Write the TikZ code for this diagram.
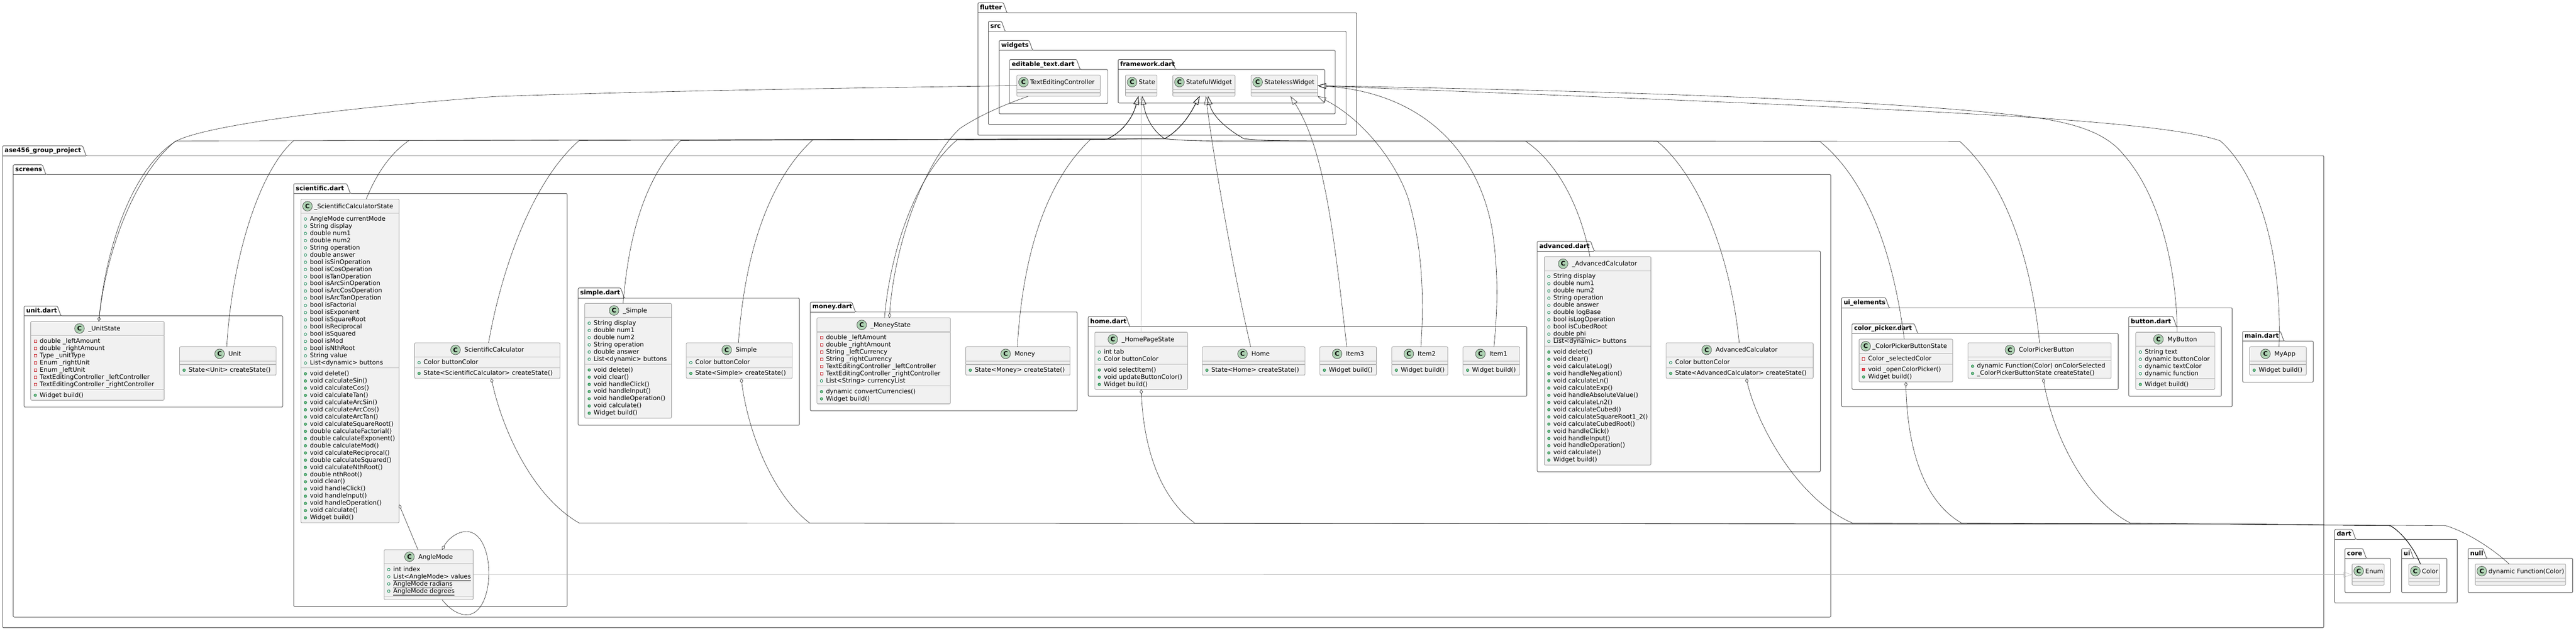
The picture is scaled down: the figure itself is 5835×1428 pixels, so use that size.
\documentclass[tikz,border=0pt]{standalone}
\usepackage{fontspec}
\setmainfont{DejaVu Sans}
\usetikzlibrary{arrows.meta}
\definecolor{classfill}{HTML}{F1F1F1}
\definecolor{circlefill}{HTML}{ADD1B2}
\definecolor{pubgreen}{HTML}{038048}
\definecolor{pubfill}{HTML}{84BE84}
\definecolor{privred}{HTML}{C82930}
\definecolor{privfill}{HTML}{F24D5C}
\tikzset{
  pkgline/.style={draw=black!70,line width=1.1pt,rounded corners=2.5pt},
  pkgtitle/.style={anchor=base west,inner sep=0pt,font=\fontsize{14}{16}\selectfont\bfseries},
  classbox/.style={draw=black!40,fill=classfill,line width=1pt,rounded corners=2.5pt,anchor=north west,inner sep=0pt,outer sep=0pt},
  sepline/.style={draw=black!30,line width=1.3pt},
  rowtext/.style={anchor=base west,inner sep=0pt,font=\fontsize{14}{16}\selectfont},
  circc/.style={circle,draw=black!75,fill=circlefill,line width=.8pt,minimum size=22pt,inner sep=0pt,font=\fontsize{14}{16}\selectfont\bfseries},
  pf/.style={circle,draw=pubgreen,line width=.9pt,minimum size=6pt,inner sep=0pt},
  pm/.style={circle,draw=pubgreen,fill=pubfill,line width=.9pt,minimum size=6pt,inner sep=0pt},
  xf/.style={rectangle,draw=privred,line width=.9pt,minimum size=6pt,inner sep=0pt},
  xm/.style={rectangle,draw=privred,fill=privfill,line width=.9pt,minimum size=6pt,inner sep=0pt},
  link/.style={draw=black!90,line width=.7pt},
  ext/.style={link,{Triangle[open,length=19pt,width=12pt]}-},
  agg/.style={link,{Diamond[open,length=11pt,width=7pt]}-},
  graylink/.style={draw=black!30,line width=1.1pt},
}
\newlength{\titlew}
\newcommand{\umlpack}[8]{
  \draw[pkgline] (#2,#4) -- (#2,#3) -- (#7-8,#3) -- (#7,#4) -- (#5,#4) -- (#5,#6) -- (#2,#6) -- cycle;
  \draw[pkgline] (#2,#4) -- (#7,#4);
  \node[pkgtitle] (#1) at (#2+4.5,#3+15) {#8};
}
\newcommand{\umlclass}[9]{
  \pgfmathsetmacro{\classh}{48+16.3*#5+16.3*#6}
  \node[classbox,minimum width=#4pt,minimum height=\classh pt] (#1) at (#2,#3) {};
  \settowidth{\titlew}{\pgfinterruptpicture\fontsize{14}{16}\selectfont #7\endpgfinterruptpicture}
  \pgfmathsetmacro{\titlespare}{#4-\titlew-22}
  \pgfmathsetmacro{\titlegap}{ifthenelse(\titlespare<30,4,9)}
  \pgfmathsetmacro{\titlelead}{ifthenelse(\titlespare<30,4,(\titlespare-9)/2)}
  \node[circc] (#1c) at (#2+\titlelead+11,#3+16) {C};
  \node[rowtext] (#1t) at (#2+\titlelead+22+\titlegap,#3+21) {#7};
  \draw[sepline] (#2,#3+32) -- ++(#4,0);
  \draw[sepline] (#2,#3+40+16.3*#5) -- ++(#4,0);
  \ifnum#5>0
  \foreach \vis/\txt [count=\i] in {#8} {
    \node[\vis] (#1fm\i) at (#2+10.3,#3+36+16.3*\i-16.3+9) {};
    \node[rowtext] (#1f\i) at (#2+20.3,#3+36+16.3*\i-16.3+13) {\txt};
  }
  \fi
  \ifnum#6>0
  \foreach \vis/\txt [count=\i] in {#9} {
    \node[\vis] (#1mm\i) at (#2+10.3,#3+44+16.3*#5+16.3*\i-16.3+9) {};
    \node[rowtext] (#1m\i) at (#2+20.3,#3+44+16.3*#5+16.3*\i-16.3+13) {\txt};
  }
  \fi
}
\begin{document}
\begin{tikzpicture}[x=1pt,y=-1pt]
  \useasboundingbox[fill=white] (0,0) rectangle (5835,1428);
  \umlpack{pflutter}{2215}{6.4}{29}{3073}{306}{2280.8}{flutter}
  \umlpack{psrc}{2238.7}{48.5}{71}{3049.3}{281.7}{2276.7}{src}
  \umlpack{pwidgets}{2263.2}{91.7}{114}{3024.5}{257.7}{2339}{widgets}
  \umlpack{peditable}{2287}{134.7}{157.3}{2509}{234.3}{2446.7}{editable\_text.dart}
  \umlpack{pframework}{2532.7}{134.7}{157.3}{3001}{233.3}{2662.6}{framework.dart}
  \umlpack{pase}{6}{330}{352.4}{5263.6}{1421}{195}{ase456\_group\_project}
  \umlpack{pscreens}{30}{373}{395}{4147}{1397}{104}{screens}
  \umlpack{punit}{54.7}{693}{715}{640.5}{921.6}{138}{unit.dart}
  \umlpack{pscientific}{665.3}{416}{438}{1284.6}{1373}{793.5}{scientific.dart}
  \umlpack{psimple}{1309.5}{652}{674.8}{1810.7}{962.6}{1414}{simple.dart}
  \umlpack{pmoney}{1835.6}{684}{706}{2440}{930}{1937.5}{money.dart}
  \umlpack{phome}{2464.9}{716.7}{739.5}{3458.5}{897}{2559}{home.dart}
  \umlpack{padvanced}{3482}{546.4}{568.3}{4123.4}{1068}{3611}{advanced.dart}
  \umlpack{pui}{4171.5}{674}{696.7}{5056}{920.7}{4279}{ui\_elements}
  \umlpack{ppicker}{4195}{733}{755}{4798}{881.5}{4344}{color\_picker.dart}
  \umlpack{pbutton}{4821.8}{716.7}{739.5}{5031.6}{897}{4930}{button.dart}
  \umlpack{pmain}{5079.7}{750.4}{772.3}{5240}{865}{5173.5}{main.dart}
  \umlpack{pdart}{5288.3}{1198.5}{1221}{5566}{1365}{5336}{dart}
  \umlpack{pcore}{5311.7}{1242}{1264}{5415}{1341.5}{5360}{core}
  \umlpack{pdui}{5440}{1242}{1264}{5542.5}{1341.5}{5467}{ui}
  \umlpack{pnull}{5590.6}{1242}{1264}{5827.5}{1341.5}{5632.5}{null}

  \umlclass{TextCtrl}{2303.3}{170}{189}{0}{0}{TextEditingController}{}{}
  \umlclass{State}{2549.3}{170}{71.4}{0}{0}{State}{}{}
  \umlclass{Stateful}{2656.5}{170}{140.9}{0}{0}{StatefulWidget}{}{}
  \umlclass{Stateless}{2833.7}{170}{150.8}{0}{0}{StatelessWidget}{}{}
  \umlclass{UnitState}{69.6}{727.6}{302.2}{7}{1}{\_UnitState}{
    xf/double \_leftAmount, xf/double \_rightAmount, xf/Type \_unitType, xf/Enum \_rightUnit, xf/Enum \_leftUnit,
    xf/TextEditingController \_leftController, xf/TextEditingController \_rightController}{pm/Widget build()}
  \umlclass{Unit}{406.7}{785}{218.8}{0}{1}{Unit}{}{pm/State<Unit> createState()}
  \umlclass{SciState}{681.5}{450.8}{222.5}{21}{21}{\_ScientificCalculatorState}{
    pf/AngleMode currentMode, pf/String display, pf/double num1, pf/double num2, pf/String operation, pf/double answer,
    pf/bool isSinOperation, pf/bool isCosOperation, pf/bool isTanOperation, pf/bool isArcSinOperation,
    pf/bool isArcCosOperation, pf/bool isArcTanOperation, pf/bool isFactorial, pf/bool isExponent, pf/bool isSquareRoot,
    pf/bool isReciprocal, pf/bool isSquared, pf/bool isMod, pf/bool isNthRoot, pf/String value, pf/List<dynamic> buttons}{
    pm/void delete(), pm/void calculateSin(), pm/void calculateCos(), pm/void calculateTan(), pm/void calculateArcSin(),
    pm/void calculateArcCos(), pm/void calculateArcTan(), pm/void calculateSquareRoot(), pm/double calculateFactorial(),
    pm/double calculateExponent(), pm/double calculateMod(), pm/void calculateReciprocal(), pm/double calculateSquared(),
    pm/void calculateNthRoot(), pm/double nthRoot(), pm/void clear(), pm/void handleClick(), pm/void handleInput(),
    pm/void handleOperation(), pm/void calculate(), pm/Widget build()}
  \umlclass{SciCalc}{939}{776}{329.5}{1}{1}{ScientificCalculator}{pf/Color buttonColor}{pm/State<ScientificCalculator> createState()}
  \umlclass{AngleMode}{870.3}{1244.3}{201.4}{4}{0}{AngleMode}{
    pf/int index, pf/\underline{List<AngleMode> values}, pf/\underline{AngleMode radians}, pf/\underline{AngleMode degrees}}{}
  \umlclass{SimpleState}{1324.4}{686.7}{196.6}{6}{7}{\_Simple}{
    pf/String display, pf/double num1, pf/double num2, pf/String operation, pf/double answer, pf/List<dynamic> buttons}{
    pm/void delete(), pm/void clear(), pm/void handleClick(), pm/void handleInput(), pm/void handleOperation(),
    pm/void calculate(), pm/Widget build()}
  \umlclass{Simple}{1554.5}{776}{240}{1}{1}{Simple}{pf/Color buttonColor}{pm/State<Simple> createState()}
  \umlclass{MoneyState}{1850.5}{719.5}{302.2}{7}{2}{\_MoneyState}{
    xf/double \_leftAmount, xf/double \_rightAmount, xf/String \_leftCurrency, xf/String \_rightCurrency,
    xf/TextEditingController \_leftController, xf/TextEditingController \_rightController, pf/List<String> currencyList}{
    pm/dynamic convertCurrencies(), pm/Widget build()}
  \umlclass{Money}{2187.5}{785}{236.3}{0}{1}{Money}{}{pm/State<Money> createState()}
  \umlclass{HomeState}{2479.8}{752}{210.2}{2}{3}{\_HomePageState}{pf/int tab, pf/Color buttonColor}{
    pm/void selectItem(), pm/void updateButtonColor(), pm/Widget build()}
  \umlclass{Home}{2723.5}{785}{232.5}{0}{1}{Home}{}{pm/State<Home> createState()}
  \umlclass{ItemThree}{2989.6}{785}{128.1}{0}{1}{Item3}{}{pm/Widget build()}
  \umlclass{ItemTwo}{3152.6}{785}{126.8}{0}{1}{Item2}{}{pm/Widget build()}
  \umlclass{ItemOne}{3314}{785}{128.3}{0}{1}{Item1}{}{pm/Widget build()}
  \umlclass{AdvState}{3498}{581}{241.5}{10}{16}{\_AdvancedCalculator}{
    pf/String display, pf/double num1, pf/double num2, pf/String operation, pf/double answer, pf/double logBase,
    pf/bool isLogOperation, pf/bool isCubedRoot, pf/\underline{double phi}, pf/List<dynamic> buttons}{
    pm/void delete(), pm/void clear(), pm/void calculateLog(), pm/void handleNegation(), pm/void calculateLn(),
    pm/void calculateExp(), pm/void handleAbsoluteValue(), pm/void calculateLn2(), pm/void calculateCubed(),
    pm/void calculateSquareRoot1\_2(), pm/void calculateCubedRoot(), pm/void handleClick(), pm/void handleInput(),
    pm/void handleOperation(), pm/void calculate(), pm/Widget build()}
  \umlclass{AdvCalc}{3774}{776}{333}{1}{1}{AdvancedCalculator}{pf/Color buttonColor}{pm/State<AdvancedCalculator> createState()}
  \umlclass{PickerState}{4211}{767.7}{212}{1}{2}{\_ColorPickerButtonState}{xf/Color \_selectedColor}{
    xm/void \_openColorPicker(), pm/Widget build()}
  \umlclass{Picker}{4457.8}{776}{324.2}{0}{2}{ColorPickerButton}{}{
    pm/dynamic Function(Color) onColorSelected, pm/\_ColorPickerButtonState createState()}
  \umlclass{MyButton}{4837.8}{752}{179}{4}{1}{MyButton}{
    pf/String text, pf/dynamic buttonColor, pf/dynamic textColor, pf/dynamic function}{pm/Widget build()}
  \umlclass{MyApp}{5095.7}{785}{128.3}{0}{1}{MyApp}{}{pm/Widget build()}
  \umlclass{Enum}{5327.7}{1276.8}{72.8}{0}{0}{Enum}{}{}
  \umlclass{Color}{5456}{1276.8}{70.4}{0}{0}{Color}{}{}
  \umlclass{DynFunc}{5606.6}{1276.8}{204.9}{0}{0}{dynamic Function(Color)}{}{}

  \draw[agg] ([xshift=3.1pt]UnitState.north) .. controls (240,560) and (300,380) .. (398,320) .. controls (450,290) and (700,250) .. (1119,218.6) .. controls (1500,205) and (2000,198) .. (TextCtrl.west);
  \draw[agg] ([xshift=13pt]MoneyState.north) .. controls (2025,560) and (2090,370) .. (2174,291) .. controls (2220,260) and (2280,235) .. ([xshift=-68.8pt]TextCtrl.south);

  \draw[ext] ([xshift=-6.5pt]State.south) .. controls (2565,270) and (2540,300) .. (2507.6,315) -- (398,319) .. controls (310,390) and (240,560) .. ([xshift=3.1pt]UnitState.north);
  \draw[ext] ([xshift=-6.5pt]State.south) .. controls (2565,270) and (2540,300) .. (2507.6,315) -- (926.5,318) .. controls (880,350) and (850,400) .. ([xshift=36.75pt]SciState.north);
  \draw[ext] ([xshift=-6.5pt]State.south) .. controls (2565,270) and (2540,300) .. (2507.6,315) -- (1542,318) .. controls (1465,400) and (1425,520) .. ([xshift=-11.2pt]SimpleState.north);
  \draw[ext] ([xshift=-6.5pt]State.south) .. controls (2565,270) and (2540,300) .. (2507.6,315) -- (2167.6,317) .. controls (2070,400) and (2015,580) .. ([xshift=1.9pt]MoneyState.north);
  \draw[graylink,{Triangle[open,length=19pt,width=12pt,line width=.6pt]}-] (State.south) -- (HomeState.north);
  \draw[ext] ([xshift=2.3pt]State.south) .. controls (2595,265) and (2610,295) .. (2638,314) .. controls (2680,319) and (2750,320) .. (2900,319) -- (3454.8,319) .. controls (3530,370) and (3580,470) .. ([xshift=-17.25pt]AdvState.north);
  \draw[ext] ([xshift=2.3pt]State.south) .. controls (2595,265) and (2610,295) .. (2638,314) .. controls (2680,319) and (2750,320) .. (2900,319) -- (4122,320) .. controls (4220,400) and (4285,550) .. ([xshift=-3.6pt]PickerState.north);

  \draw[ext] ([xshift=-9.6pt]Stateful.south) .. controls (2700,250) and (2680,290) .. (2638,314) -- (665,318.5) .. controls (585,390) and (525,590) .. ([xshift=-2.5pt]Unit.north);
  \draw[ext] ([xshift=-9.6pt]Stateful.south) .. controls (2700,250) and (2680,290) .. (2638,314) -- (1312,318) .. controls (1195,420) and (1130,640) .. ([xshift=3pt]SciCalc.north);
  \draw[ext] ([xshift=-9.6pt]Stateful.south) .. controls (2700,250) and (2680,290) .. (2638,314) -- (1840.5,317) .. controls (1730,420) and (1685,600) .. ([xshift=-1.9pt]Simple.north);
  \draw[ext] ([xshift=-9.6pt]Stateful.south) .. controls (2700,250) and (2680,290) .. (2638,314) -- (2470,316) .. controls (2360,420) and (2315,600) .. ([xshift=-1.2pt]Money.north);
  \draw[ext] ([xshift=4.5pt]Stateful.south) .. controls (2745,330) and (2790,600) .. ([xshift=-6.75pt]Home.north);
  \draw[ext] ([xshift=9.5pt]Stateful.south) .. controls (2745,260) and (2775,290) .. (2817.6,314) .. controls (2850,318) and (2900,319) .. (3000,319) -- (3753,319) .. controls (3850,400) and (3920,580) .. ([xshift=-1pt]AdvCalc.north);
  \draw[ext] ([xshift=9.5pt]Stateful.south) .. controls (2745,260) and (2775,290) .. (2817.6,314) .. controls (2850,318) and (2900,319) .. (3000,319) -- (4439,320) .. controls (4540,410) and (4600,580) .. (Picker.north);

  \draw[ext] ([xshift=14.2pt]Stateless.south) .. controls (3000,340) and (3020,520) .. ([xshift=-3pt]ItemThree.north);
  \draw[ext] (Stateless.south east) .. controls (3080,265) and (3160,360) .. (3190,450) .. controls (3225,570) and (3225,690) .. ([xshift=2.5pt]ItemTwo.north);
  \draw[ext] (Stateless.east) .. controls (3230,210) and (3350,350) .. (3380,520) .. controls (3395,620) and (3392,700) .. ([xshift=5.85pt]ItemOne.north);
  \draw[ext] (Stateless.east) .. controls (3600,205) and (4300,225) .. (4615.7,266.8) .. controls (4700,280) and (4770,300) .. (4810,350) .. controls (4890,440) and (4930,600) .. ([xshift=4.3pt]MyButton.north);
  \draw[ext] (Stateless.east) .. controls (3500,215) and (4200,240) .. (4615.7,266.8) .. controls (4800,280) and (4960,295) .. (5029,318.7) .. controls (5110,390) and (5170,560) .. ([xshift=2.5pt]MyApp.north);

  \draw[agg] ([xshift=9.25pt]SciCalc.south) .. controls (1135,960) and (1200,1120) .. (1312,1184) -- (5100,1186.5) -- (5414.5,1190) .. controls (5440,1205) and (5468,1240) .. ([xshift=-8.7pt]Color.north);
  \draw[agg] ([xshift=4.4pt]Simple.south) .. controls (1695,980) and (1750,1120) .. (1834,1184) -- (5100,1186.5) -- (5414.5,1190) .. controls (5440,1205) and (5468,1240) .. ([xshift=-8.7pt]Color.north);
  \draw[agg] (HomeState.south) .. controls (2590,1000) and (2620,1120) .. (2706,1184) -- (5100,1186.5) -- (5414.5,1190) .. controls (5440,1205) and (5468,1240) .. ([xshift=-8.7pt]Color.north);
  \draw[agg] ([xshift=15pt]AdvCalc.south) .. controls (3980,960) and (4070,1130) .. (4196,1184) -- (5100,1186.5) -- (5414.5,1190) .. controls (5440,1205) and (5468,1240) .. ([xshift=-8.7pt]Color.north);
  \draw[agg] (PickerState.south) .. controls (4320,1000) and (4350,1130) .. (4443,1184) -- (5100,1186.5) -- (5414.5,1190) .. controls (5440,1205) and (5468,1240) .. ([xshift=-8.7pt]Color.north);
  \draw[agg] ([xshift=8pt]Picker.south) .. controls (4650,980) and (4720,1130) .. (4825.5,1184) -- (5100,1187) -- (5540,1190) .. controls (5590,1205) and (5650,1245) .. ([xshift=-25.5pt]DynFunc.north);

  \draw[agg] ([yshift=-325pt]SciState.east) -- ([xshift=-24.3pt]AngleMode.north);
  \draw[agg] ([xshift=30.3pt]AngleMode.north) .. controls (1015,1220) and (1035,1203.3) .. (1056.7,1203.3) .. controls (1090,1203.3) and (1107.3,1250) .. (1107.3,1297) .. controls (1107.3,1345) and (1090,1391.7) .. (1056.7,1391.7) .. controls (1035,1391.7) and (1015,1375) .. ([xshift=30.3pt]AngleMode.south);
  \draw[graylink,-{Triangle[open,length=19pt,width=12pt,line width=.6pt]}] (AngleMode.east) -- (Enum.west);
\end{tikzpicture}
\end{document}
